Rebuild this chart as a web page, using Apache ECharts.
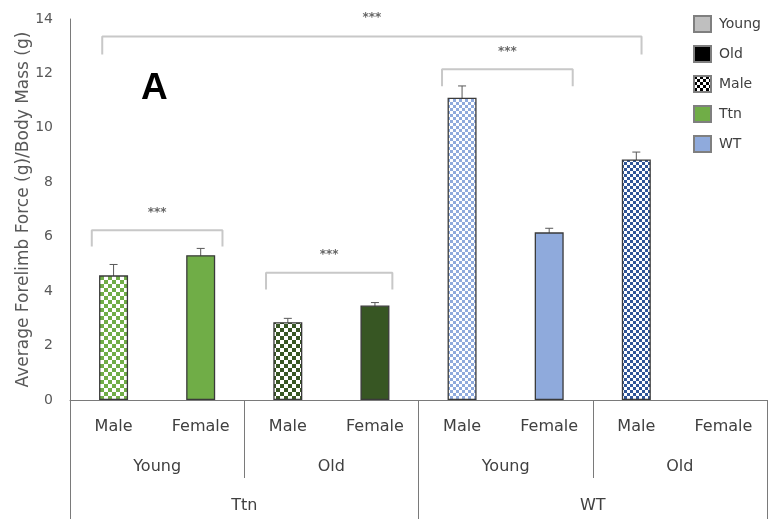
<!DOCTYPE html>
<html>
<head>
<meta charset="utf-8">
<script src="https://cdn.jsdelivr.net/npm/echarts@6/dist/echarts.min.js"></script>
<style>html,body{margin:0;padding:0;background:#fff}#c{width:770px;height:519px}</style>
</head>
<body>
<div id="c"></div>
<script>
// ---- data ----
const sexes = ['Male', 'Female', 'Male', 'Female', 'Male', 'Female', 'Male', 'Female'];
const ages = ['Young', 'Old', 'Young', 'Old'];
const strains = ['Ttn', 'WT'];
const means = [4.58, 5.32, 2.86, 3.47, 11.11, 6.16, 8.84, null];
const errors = [0.40, 0.25, 0.14, 0.11, 0.43, 0.15, 0.27, null];
const legendNames = ['Young', 'Old', 'Male', 'Ttn', 'WT'];
// significance brackets (category-index units / value units)
const bracketStart = [-0.25, 1.75, 3.77, -0.13];
const bracketEnd = [1.25, 3.20, 5.27, 6.06];
const bracketTop = [6.24, 4.68, 12.15, 13.36];
const bracketFoot = [5.64, 4.06, 11.53, 12.70];
const starY = [6.88, 5.33, 12.80, 14.03];
const starLabel = ['***', '***', '***', '***'];

// ---- styles ----
const FONT = 'DejaVu Sans';
function checker(color, cell) {
  const c = document.createElement('canvas');
  c.width = c.height = cell * 2;
  const g = c.getContext('2d');
  g.fillStyle = '#ffffff';
  g.fillRect(0, 0, cell * 2, cell * 2);
  g.fillStyle = color;
  g.fillRect(0, 0, cell, cell);
  g.fillRect(cell, cell, cell, cell);
  return { image: c, repeat: 'repeat' };
}
const barFills = [
  checker('#70ad47', 4), '#70ad47',
  checker('#375623', 4), '#375623',
  checker('#8faadc', 3), '#8faadc',
  checker('#2f5597', 3), '#2f5597'
];
const legendFills = ['#bfbfbf', '#000000', checker('#000000', 3), '#70ad47', '#8faadc'];

const chart = echarts.init(document.getElementById('c'), null, { renderer: 'canvas' });

const series = [];
series.push({
  type: 'bar',
  xAxisIndex: 0, yAxisIndex: 0,
  barWidth: 29,
  data: means.map((v, i) => ({
    value: v == null ? '-' : v,
    itemStyle: { color: barFills[i], borderColor: '#3a3a3a', borderWidth: 1.3 }
  })),
  silent: true
});
series.push({
  type: 'custom',
  xAxisIndex: 0, yAxisIndex: 0,
  data: means.map((v, i) => v == null ? null : [i, v, errors[i]]).filter(d => d),
  renderItem: function (params, api) {
    const x = api.value(0), v = api.value(1), e = api.value(2);
    const top = api.coord([x, v + e]);
    const bot = api.coord([x, v - e]);
    const hw = 4;
    const st = { stroke: '#595959', lineWidth: 1 };
    return {
      type: 'group',
      children: [
        { type: 'line', shape: { x1: top[0], y1: top[1], x2: bot[0], y2: bot[1] }, style: st },
        { type: 'line', shape: { x1: top[0] - hw, y1: top[1], x2: top[0] + hw, y2: top[1] }, style: st },
        { type: 'line', shape: { x1: bot[0] - hw, y1: bot[1], x2: bot[0] + hw, y2: bot[1] }, style: st }
      ]
    };
  },
  silent: true
});
bracketStart.forEach((x1, k) => {
  const x2 = bracketEnd[k];
  series.push({
    type: 'line',
    xAxisIndex: 3, yAxisIndex: 0,
    symbol: 'none',
    lineStyle: { color: '#c8c8c8', width: 2 },
    data: [[x1, bracketFoot[k]], [x1, bracketTop[k]], [x2, bracketTop[k]], [x2, bracketFoot[k]]],
    silent: true, clip: false
  });
});
series.push({
  type: 'scatter',
  xAxisIndex: 3, yAxisIndex: 0,
  symbolSize: 0,
  clip: false,
  data: starLabel.map((s, k) => ({ value: [(bracketStart[k] + bracketEnd[k]) / 2, starY[k]], name: s })),
  label: { show: true, position: 'inside', formatter: p => p.name, color: '#404040', fontSize: 12, fontWeight: 'bold', fontFamily: FONT },
  silent: true
});
legendNames.forEach((n, k) => {
  series.push({
    type: 'scatter', name: n,
    xAxisIndex: 3, yAxisIndex: 0,
    data: [],
    itemStyle: { color: legendFills[k], opacity: 1, borderColor: '#7f7f7f', borderWidth: 1 }
  });
});

const lineCol = '#7a7a7a';
chart.setOption({
  animation: false,
  backgroundColor: '#ffffff',
  title: {
    text: 'A', left: 141, top: 70, padding: 0,
    textStyle: { fontSize: 37, fontWeight: 'bold', color: '#000', fontFamily: 'Liberation Sans' }
  },
  legend: {
    orient: 'vertical', left: 688, top: 10,
    itemWidth: 17, itemHeight: 16, itemGap: 12,
    icon: 'rect',
    data: legendNames,
    selectedMode: false,
    textStyle: { fontSize: 14, color: '#404040', fontFamily: FONT, padding: [0, 0, 0, 3] }
  },
  grid: { left: 70, right: 3, top: 19, bottom: 119, containLabel: false },
  xAxis: [
    {
      type: 'category', data: sexes, position: 'bottom',
      axisLine: { show: true, lineStyle: { color: lineCol, width: 1 } },
      axisTick: { show: true, length: 78, interval: (i) => i % 2 === 0, lineStyle: { color: lineCol, width: 1 } },
      axisLabel: { interval: 0, margin: 19, fontSize: 16, color: '#404040', fontFamily: FONT },
      splitLine: { show: false }
    },
    {
      type: 'category', data: ages, position: 'bottom', offset: 0,
      axisLine: { show: false }, axisTick: { show: false },
      axisLabel: { interval: 0, margin: 59, fontSize: 16, color: '#404040', fontFamily: FONT },
      splitLine: { show: false }
    },
    {
      type: 'category', data: strains, position: 'bottom', offset: 0,
      axisLine: { show: false },
      axisTick: { show: true, length: 119, lineStyle: { color: lineCol, width: 1 } },
      axisLabel: { interval: 0, margin: 98, fontSize: 16, color: '#404040', fontFamily: FONT },
      splitLine: { show: false }
    },
    {
      type: 'value', min: -0.5, max: 7.5, show: false, position: 'bottom'
    }
  ],
  yAxis: [{
    type: 'value', min: 0, max: 14, interval: 2,
    name: 'Average Forelimb Force (g)/Body Mass (g)',
    nameLocation: 'middle', nameGap: 38, nameMoveOverlap: false,
    nameTextStyle: { fontSize: 17, color: '#595959', fontFamily: FONT },
    axisLine: { show: true, onZero: false, lineStyle: { color: lineCol, width: 1 } },
    axisTick: { show: false },
    splitLine: { show: false },
    axisLabel: { margin: 17, fontSize: 14, color: '#595959', fontFamily: FONT }
  }],
  series: series
});
</script>
</body>
</html>
